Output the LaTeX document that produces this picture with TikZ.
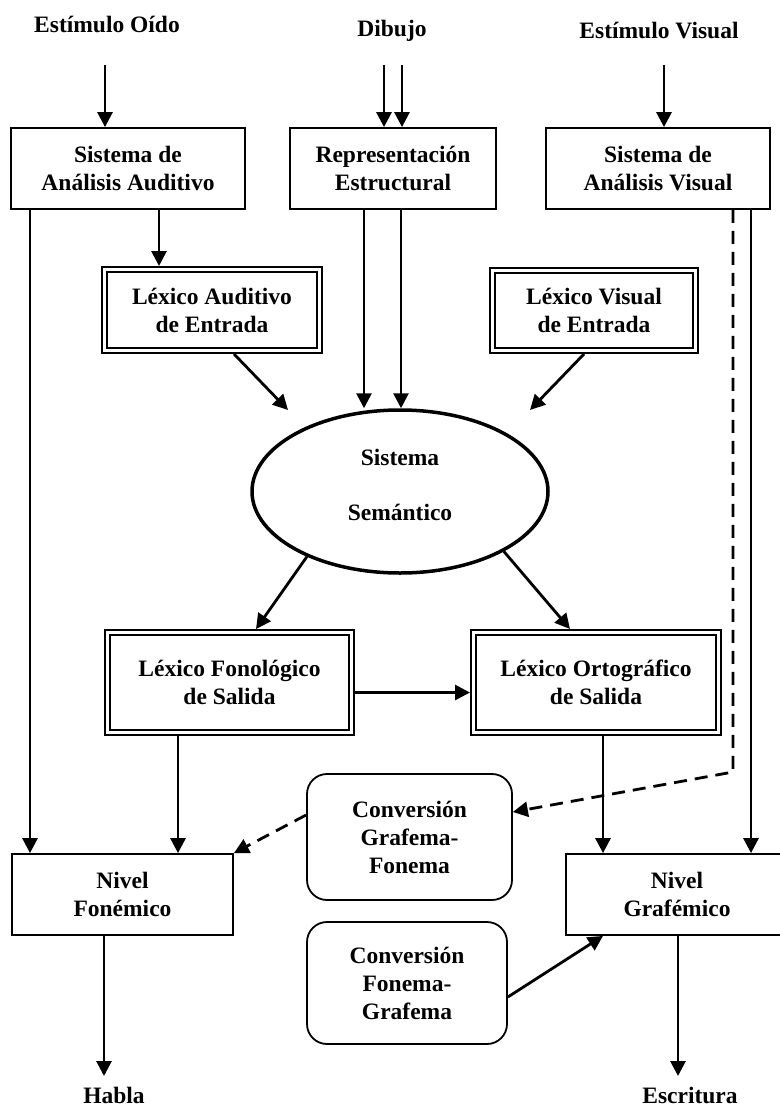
\documentclass[tikz,border=0pt]{standalone}
\usepackage{fontspec}
\setmainfont{Liberation Serif}
\usetikzlibrary{arrows.meta, shapes.geometric}

\begin{document}
\begin{tikzpicture}[x=1pt, y=-1pt,
  txt/.style={font=\bfseries\fontsize{23.5}{28}\selectfont, align=center, inner sep=0pt},
  box/.style={txt, draw, line width=1.8pt},
  dbox/.style={txt, draw, line width=1.8pt, double, double distance=3pt, outer sep=3.5pt},
  rbox/.style={box, rounded corners=20pt},
  arr/.style={line width=2.8pt, -{Triangle[length=15pt,width=15pt]}},
  darr/.style={arr, dash pattern=on 13pt off 8pt}]
\useasboundingbox (0,0) rectangle (779,1110);

% entradas
\node[txt, anchor=base] (oido) at (107,33) {Estímulo Oído};
\node[txt, anchor=base] (dibujo) at (392,37) {Dibujo};
\node[txt, anchor=base] (visual) at (659,39) {Estímulo Visual};

\node[box, minimum width=234pt, minimum height=81pt] (saa) at (128,168.5) {Sistema de\\Análisis Auditivo};
\node[box, minimum width=206pt, minimum height=81pt] (re) at (393,168.5) {Representación\\Estructural};
\node[box, minimum width=224pt, minimum height=81pt] (sav) at (658,168.5) {Sistema de\\Análisis Visual};

\node[dbox, minimum width=215pt, minimum height=81pt] (lae) at (212,310) {Léxico Auditivo\\de Entrada};
\node[dbox, minimum width=203pt, minimum height=80pt] (lve) at (594,310.5) {Léxico Visual\\de Entrada};

\node[txt, draw, ellipse, line width=3.5pt, minimum width=296pt, minimum height=163pt] (sem) at (400,491.5) {Sistema\\[27pt]Semántico\\[-14pt]};

\node[dbox, minimum width=244pt, minimum height=100pt] (lfs) at (229.5,682.5) {Léxico Fonológico\\de Salida};
\node[dbox, minimum width=245pt, minimum height=100pt] (los) at (596,682.5) {Léxico Ortográfico\\de Salida};

\node[rbox, minimum width=205pt, minimum height=126pt] (cgf) at (409.5,837) {Conversión\\Grafema-\\Fonema};
\node[rbox, minimum width=200pt, minimum height=122pt] (cfg) at (407,983) {Conversión\\Fonema-\\Grafema};

\node[box, minimum width=221pt, minimum height=81pt] (nf) at (122.5,894.5) {Nivel\\Fonémico};
\node[box, minimum width=222pt, minimum height=81pt] (ng) at (677,894.5) {Nivel\\Grafémico};

\node[txt, anchor=base] (habla) at (114,1103) {Habla};
\node[txt, anchor=base] (escritura) at (690,1103) {Escritura};

\coordinate (in-oido) at (105,65);
\coordinate (in-dib1) at (384,65);
\coordinate (in-dib2) at (402,65);
\coordinate (in-vis) at (664,65);
\coordinate (sem-l) at (288,410);
\coordinate (sem-r) at (530,410);
\coordinate (bend) at (733,772);
\coordinate (out-habla) at (104,1076);
\coordinate (out-escr) at (678,1076);

% conexiones
\draw[arr] (in-oido) -- (in-oido |- saa.north);
\draw[arr] (in-dib1) -- (in-dib1 |- re.north);
\draw[arr] (in-dib2) -- (in-dib2 |- re.north);
\draw[arr] (in-vis) -- (in-vis |- sav.north);

\draw[arr] ([xshift=-53pt]lae.north |- saa.south) -- ([xshift=-53pt]lae.north);
\draw[arr] ([xshift=-92.5pt]nf.north |- saa.south) -- ([xshift=-92.5pt]nf.north);
\draw[arr] ([xshift=-29pt]re.south) -- ([xshift=-29pt]re.south |- sem.north);
\draw[arr] ([xshift=8pt]re.south) -- ([xshift=8pt]re.south |- sem.north);
\draw[arr] ([xshift=22pt]lae.south) -- (sem-l);
\draw[arr] ([xshift=-10pt]lve.south) -- (sem-r);

\draw[arr] (sem.215) -- ([xshift=26.5pt]lfs.north);
\draw[arr] (sem.330) -- ([xshift=-26pt]los.north);
\draw[arr] ([yshift=-10pt]lfs.east) -- ([yshift=-10pt]los.west);

\draw[arr] ([xshift=-51.5pt]lfs.south) -- ([xshift=-51.5pt]lfs.south |- nf.north);
\draw[arr] ([xshift=7pt]los.south) -- ([xshift=7pt]los.south |- ng.north);
\draw[arr] ([xshift=93pt]sav.south) -- ([xshift=93pt]sav.south |- ng.north);

\draw[darr] (sav.south -| bend) -- (bend) -- ([yshift=25pt]cgf.east);
\draw[darr] ([yshift=22pt]cgf.west) -- (nf.north east);
\draw[arr] ([yshift=-14pt]cfg.east) -- ([xshift=-74pt]ng.south);

\draw[arr] (nf.south -| out-habla) -- (out-habla);
\draw[arr] (ng.south -| out-escr) -- (out-escr);
\end{tikzpicture}
\end{document}
